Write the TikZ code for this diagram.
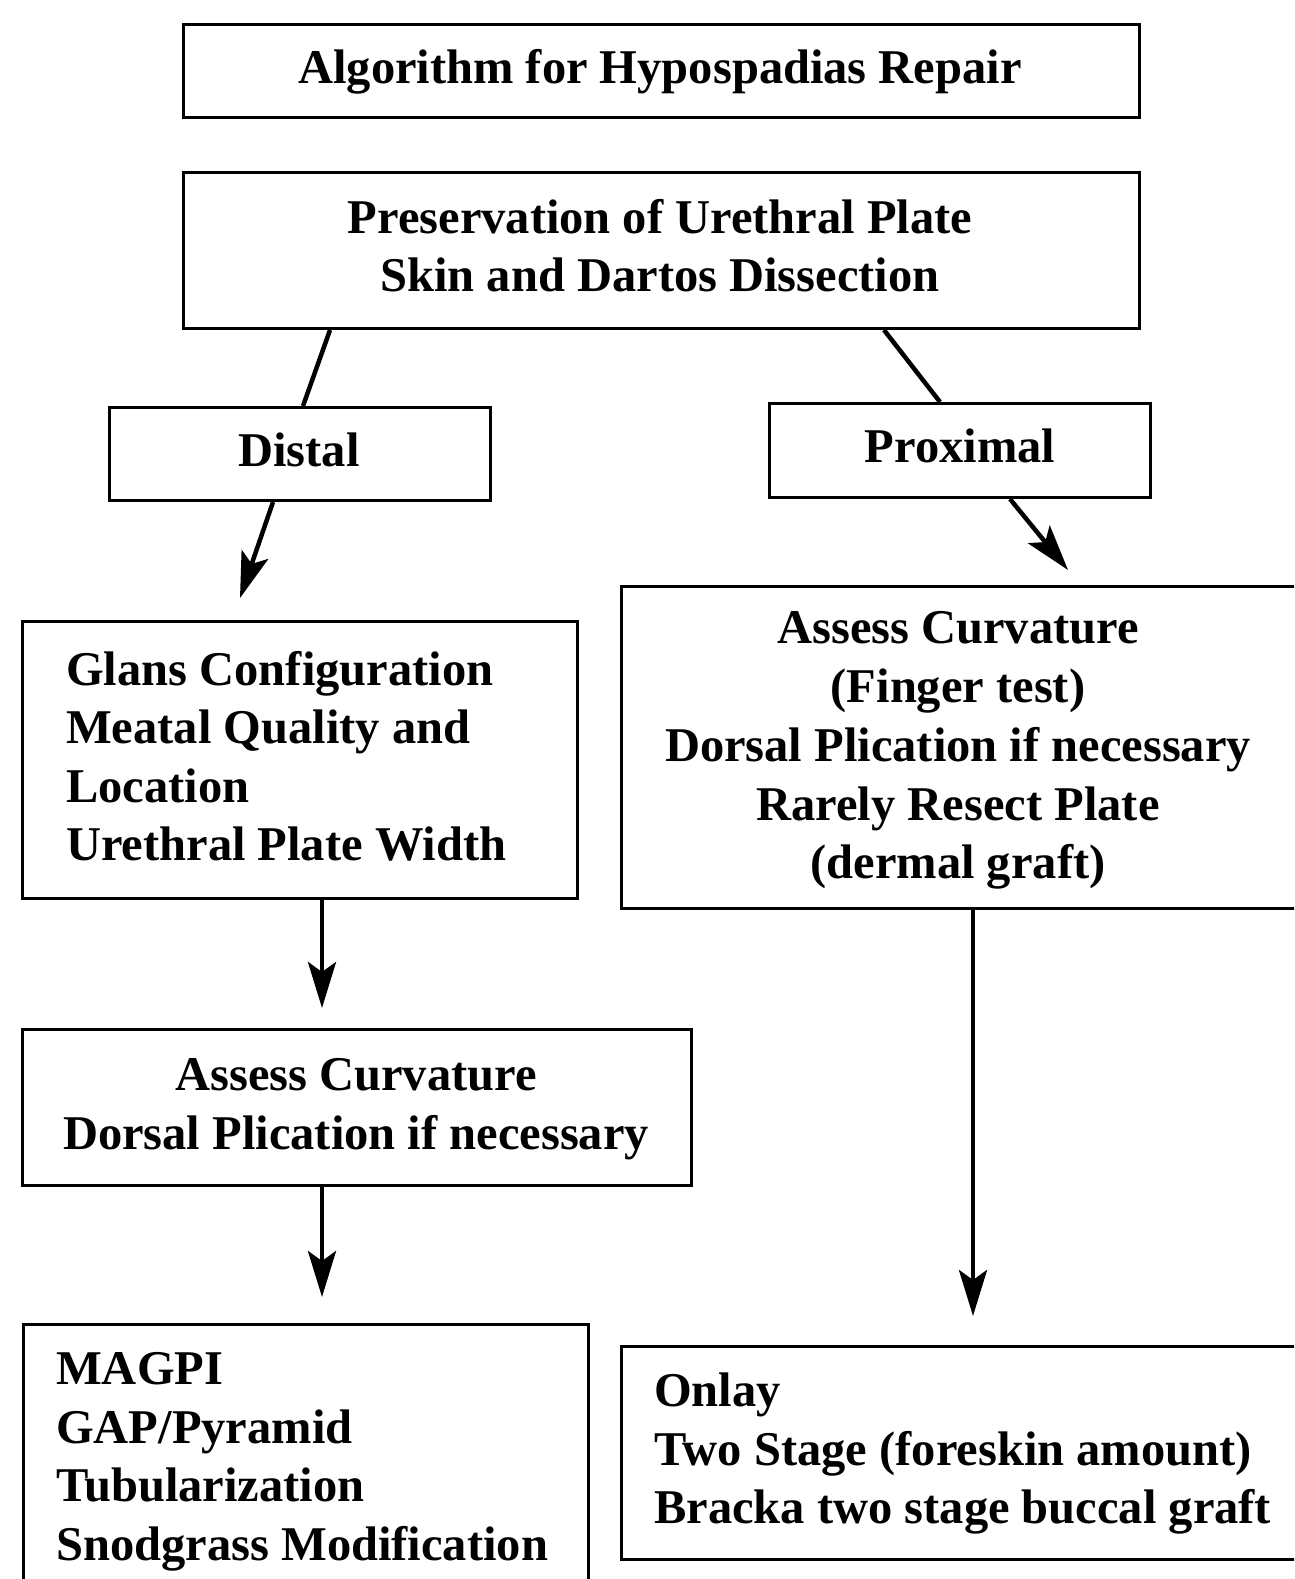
\documentclass[tikz,border=0pt]{standalone}
\usepackage{fontspec}
\setmainfont{Liberation Serif}
\usetikzlibrary{arrows.meta,calc}
\tikzset{
  box/.style={draw, line width=3pt, inner sep=0pt, anchor=north west},
  lbl/.style={inner sep=0pt, font=\fontsize{48.5}{58.7}\selectfont\bfseries},
  link/.style={line width=4.5pt},
  arr/.style={line width=4.5pt, -{Stealth[length=46pt,width=28pt,inset=10pt]}},
}
\begin{document}
\begin{tikzpicture}[x=1pt,y=-1pt]
\useasboundingbox (0,0) rectangle (1294,1579);
\clip (0,0) rectangle (1294,1579);
\fill[white] (0,0) rectangle (1294,1579);

% frames
\node[box, minimum width=956pt, minimum height=93pt]  (title)   at (182,23)   {};
\node[box, minimum width=956pt, minimum height=156pt] (pres)    at (182,171)  {};
\node[box, minimum width=381pt, minimum height=93pt]  (distal)  at (108,406)  {};
\node[box, minimum width=381pt, minimum height=94pt]  (prox)    at (768,402)  {};
\node[box, minimum width=555pt, minimum height=277pt] (glans)   at (21,620)   {};
\node[box, minimum width=690pt, minimum height=322pt] (assessR) at (620,585)   {};
\node[box, minimum width=669pt, minimum height=156pt] (assessL) at (21,1028)  {};
\node[box, minimum width=565pt, minimum height=290pt] (distrep) at (22,1323)  {};
\node[box, minimum width=690pt, minimum height=213pt] (proxrep) at (620,1345)  {};

% texts
\node[lbl, anchor=base] (t0) at (660,83.5) {Algorithm for Hypospadias Repair};
\node[lbl, anchor=base] (t1a) at (660,233.5) {Preservation of Urethral Plate};
\node[lbl, anchor=base] (t1b) at (660,291) {Skin and Dartos Dissection};
\node[lbl, anchor=base] (t2) at (299,466) {Distal};
\node[lbl, anchor=base] (t3) at (960,462) {Proximal};

\node[lbl, anchor=base west] (g1) at (66,685) {Glans Configuration};
\node[lbl, anchor=base west] (g2) at (66,743) {Meatal Quality and};
\node[lbl, anchor=base west] (g3) at (66,802) {Location};
\node[lbl, anchor=base west] (g4) at (66,860) {Urethral Plate Width};

\node[lbl, anchor=base] (r1) at (958,643) {Assess Curvature};
\node[lbl, anchor=base] (r2) at (958,702) {(Finger test)};
\node[lbl, anchor=base] (r3) at (958,761) {Dorsal Plication if necessary};
\node[lbl, anchor=base] (r4) at (958,820) {Rarely Resect Plate};
\node[lbl, anchor=base] (r5) at (958,878) {(dermal graft)};

\node[lbl, anchor=base] (l1) at (356,1090) {Assess Curvature};
\node[lbl, anchor=base] (l2) at (356,1149) {Dorsal Plication if necessary};

\node[lbl, anchor=base west] (m1) at (56,1384) {MAGPI};
\node[lbl, anchor=base west] (m2) at (56,1443) {GAP/Pyramid};
\node[lbl, anchor=base west] (m3) at (56,1501) {Tubularization};
\node[lbl, anchor=base west] (m4) at (56,1560) {Snodgrass Modification};

\node[lbl, anchor=base west] (o1) at (654,1406) {Onlay};
\node[lbl, anchor=base west] (o2) at (654,1465) {Two Stage (foreskin amount)};
\node[lbl, anchor=base west] (o3) at (654,1523) {Bracka two stage buccal graft};

% arrow ends
\coordinate (e3) at (240,598);
\coordinate (e4) at (1068,570);
\coordinate (e5) at (322,1008);
\coordinate (e6) at (322,1297);
\coordinate (e7) at (973,1316);

% connectors
\draw[link] ($(pres.south west)+(148,0)$) -- ($(distal.north west)+(195,0)$);
\draw[link] ($(pres.south west)+(702,0)$) -- ($(prox.north west)+(172,0)$);
\draw[arr] ($(distal.south west)+(165,0)$) -- (e3);
\draw[arr] ($(prox.south west)+(242,0)$) -- (e4);
\draw[arr] ($(glans.south west)+(301,0)$) -- (e5);
\draw[arr] ($(assessL.south west)+(301,0)$) -- (e6);
\draw[arr] ($(assessR.south west)+(353,0)$) -- (e7);
\end{tikzpicture}
\end{document}
